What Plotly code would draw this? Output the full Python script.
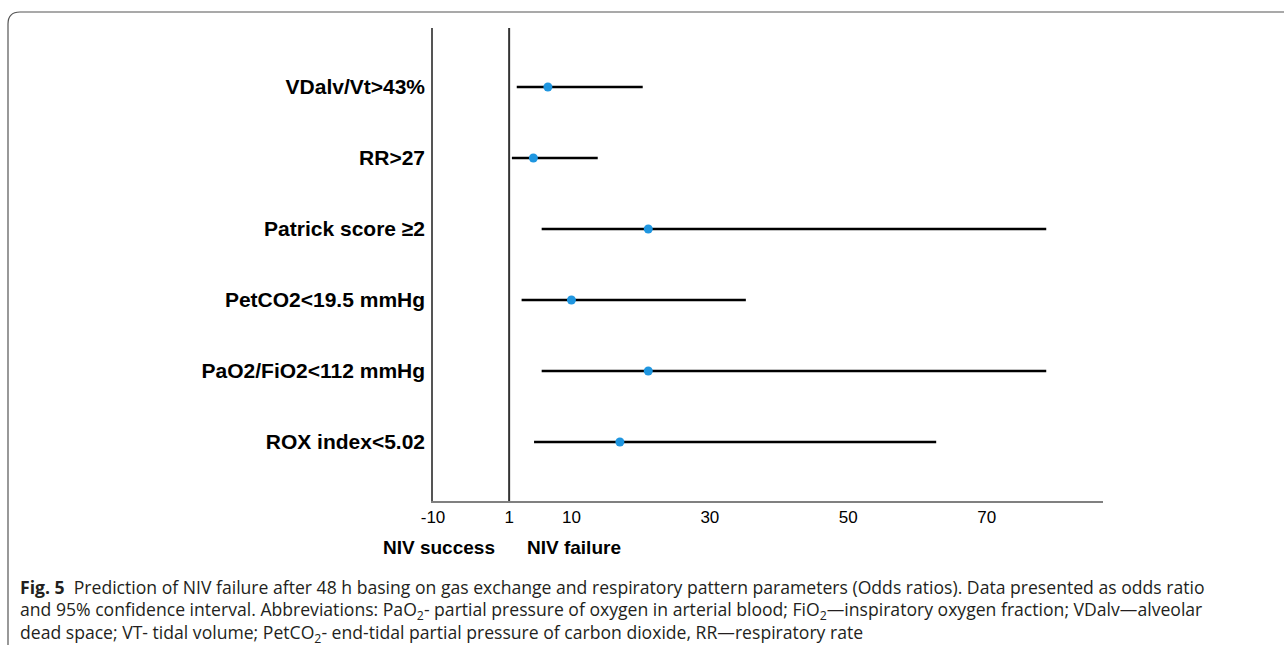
import plotly.graph_objects as go

# ---- data ----
labels = ["VDalv/Vt>43%", "RR>27", "Patrick score ≥2", "PetCO2<19.5 mmHg",
          "PaO2/FiO2<112 mmHg", "ROX index<5.02"]
odds_ratio = [6.6, 4.5, 21.1, 10.0, 21.1, 17.0]
ci_lower = [2.1, 1.4, 5.7, 2.8, 5.7, 4.6]
ci_upper = [20.3, 13.8, 78.6, 35.2, 78.6, 62.7]
x_tickvals = [-10, 1, 10, 30, 50, 70]
x_ticktext = ["-10", "1", "10", "30", "50", "70"]
caption_lines = [
    "<b>Fig. 5</b>  Prediction of NIV failure after 48 h basing on gas exchange and respiratory pattern parameters (Odds ratios). Data presented as odds ratio",
    "and 95% confidence interval. Abbreviations: PaO<sub>2</sub>- partial pressure of oxygen in arterial blood; FiO<sub>2</sub>—inspiratory oxygen fraction; VDalv—alveolar",
    "dead space; VT- tidal volume; PetCO<sub>2</sub>- end-tidal partial pressure of carbon dioxide, RR—respiratory rate",
]

W, H = 1284, 645
L, R, T, B = 433, 1103, 28, 501  # plot area in pixels
pw, ph = R - L, B - T


def px(xp):
    return (xp - L) / pw


def py(yp):
    return (B - yp) / ph


ypos = list(range(len(labels)))

fig = go.Figure()
fig.add_trace(go.Scatter(
    x=odds_ratio, y=ypos, mode="markers",
    marker=dict(color="#1f96e0", size=9),
    error_x=dict(type="data", symmetric=False,
                 array=[u - o for u, o in zip(ci_upper, odds_ratio)],
                 arrayminus=[o - l for o, l in zip(odds_ratio, ci_lower)],
                 color="black", thickness=2.5, width=0),
    showlegend=False, hoverinfo="skip",
))

# reference line at OR = 1
fig.add_shape(type="line", xref="x", yref="paper", x0=1, x1=1, y0=0, y1=1,
              line=dict(color="#333333", width=2))

# outer rounded frame
r = 12
path = (f"M {px(8)} {py(H + 20)} L {px(8)} {py(12 + r)} "
        f"Q {px(8)} {py(12)} {px(8 + r)} {py(12)} L {px(W + 20)} {py(12)}")
fig.add_shape(type="path", xref="paper", yref="paper", path=path,
              line=dict(color="#555555", width=1.2))

# NIV success / failure labels
fig.add_annotation(xref="paper", yref="paper", x=px(497), y=py(547),
                   xanchor="right", yanchor="middle", showarrow=False,
                   text="<b>NIV success</b>",
                   font=dict(family="Liberation Sans, Arial", size=19, color="black"))
fig.add_annotation(xref="paper", yref="paper", x=px(525), y=py(547),
                   xanchor="left", yanchor="middle", showarrow=False,
                   text="<b>NIV failure</b>",
                   font=dict(family="Liberation Sans, Arial", size=19, color="black"))

# caption, one text per line
for i, line in enumerate(caption_lines):
    fig.add_annotation(xref="paper", yref="paper", x=px(19), y=py(587 + 23 * i),
                       xanchor="left", yanchor="middle", showarrow=False, borderpad=0,
                       text=line, align="left",
                       font=dict(family="Open Sans", size=17.6, color="#231f20"))

fig.update_layout(
    width=W, height=H,
    margin=dict(l=L, r=W - R, t=T, b=H - B),
    paper_bgcolor="white", plot_bgcolor="white",
    xaxis=dict(range=[-10, 86.8], tickvals=x_tickvals, ticktext=x_ticktext,
               showgrid=False, zeroline=False, showline=True,
               linecolor="#808080", linewidth=2, ticks="",
               tickfont=dict(family="Liberation Sans, Arial", size=17, color="black")),
    yaxis=dict(range=[len(labels) - 1 + 0.83, -0.83], tickvals=ypos,
               ticktext=[f"<b>{t}</b>" for t in labels],
               showgrid=False, zeroline=False, showline=True,
               linecolor="#555555", linewidth=1.5, ticks="",
               ticklabelstandoff=2,
               tickfont=dict(family="Liberation Sans, Arial", size=21, color="black")),
)

fig.write_html("out.html", config={"displayModeBar": False},
               post_script="document.body.style.margin='0';document.body.style.overflow='hidden';")
